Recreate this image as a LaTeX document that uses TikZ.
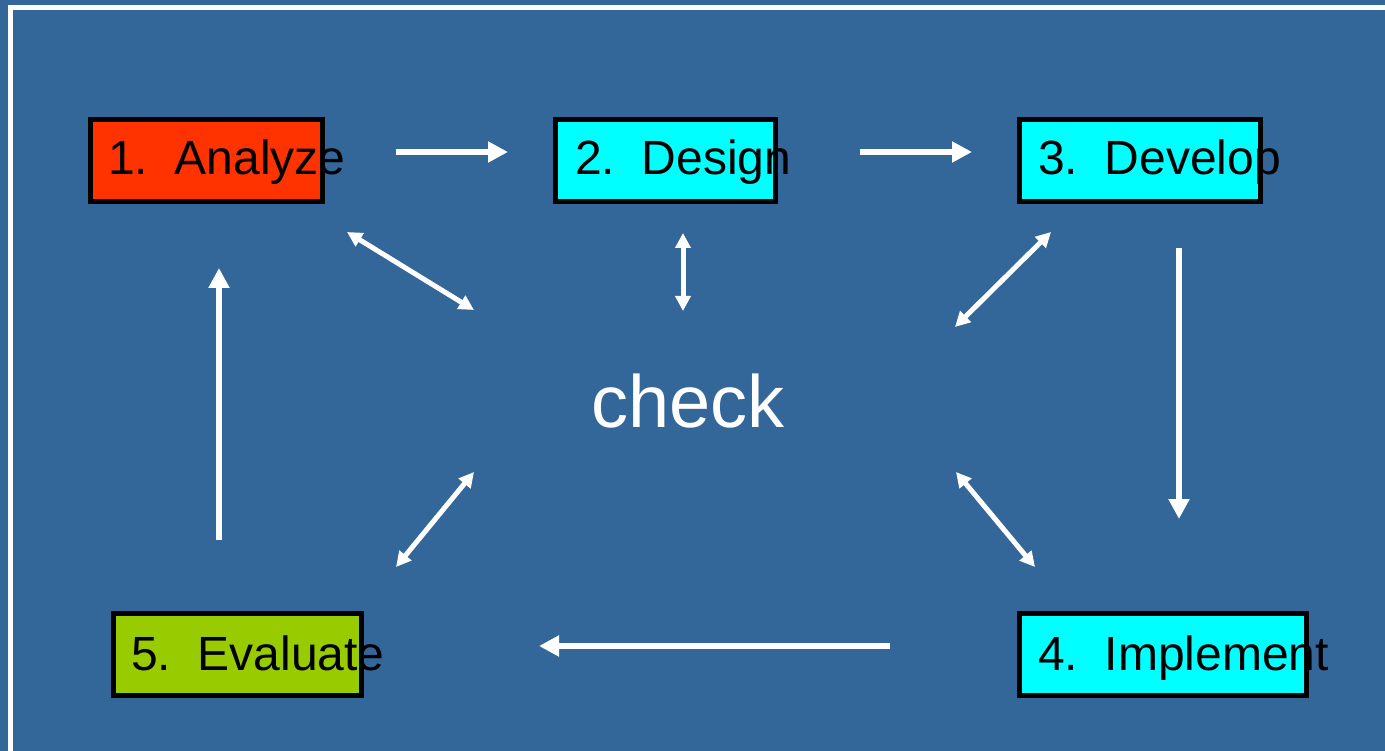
\documentclass[tikz,border=0pt]{standalone}
\usepackage{fontspec}
\setmainfont{Liberation Sans}
\usetikzlibrary{arrows.meta}

\definecolor{slide}{HTML}{336699}
\definecolor{stepred}{HTML}{FF3300}
\definecolor{stepcyan}{HTML}{00FFFF}
\definecolor{stepgreen}{HTML}{99CC00}

\tikzset{
  stepbox/.style={draw=black, line width=4.5pt, inner sep=0pt},
  steplabel/.style={anchor=base west, inner sep=0pt, text=black,
    font=\fontsize{48}{56}\selectfont},
  flow/.style={draw=white, line width=6pt,
    -{Triangle[length=20pt,width=20pt]}},
  twoway/.style={draw=white, line width=5pt,
    {Triangle[length=15pt,width=15pt]}-{Triangle[length=15pt,width=15pt]}},
}

\begin{document}
\begin{tikzpicture}[x=1pt,y=-1pt]
  \useasboundingbox (0,0) rectangle (1385,751);
  \clip (0,0) rectangle (1385,751);
  \fill[slide] (0,0) rectangle (1385,751);
  % slide frame (runs off the right and bottom edges)
  \draw[white, line width=5pt] (10.5,800) -- (10.5,7.5) -- (1420,7.5);

  % step boxes
  \path[stepbox, fill=stepred]   (90.5,119.5)  rectangle (322.5,201.5);
  \path[stepbox, fill=stepcyan]  (555.5,119.5) rectangle (775.5,201.5);
  \path[stepbox, fill=stepcyan]  (1019.5,119.5) rectangle (1260.5,201.5);
  \path[stepbox, fill=stepcyan]  (1019.5,613.5) rectangle (1306.5,695.5);
  \path[stepbox, fill=stepgreen] (113.5,613.5) rectangle (361.5,695.5);

  % step labels
  \node[steplabel] (s1) at (108,175) {1.\ \ Analyze};
  \node[steplabel] (s2) at (575,175) {2.\ \ Design};
  \node[steplabel] (s3) at (1038,175) {3.\ \ Develop};
  \node[steplabel] (s4) at (1038,670) {4.\ \ Implement};
  \node[steplabel] (s5) at (131,670) {5.\ \ Evaluate};

  % centre label
  \node[anchor=base, inner sep=0pt, text=white,
        font=\fontsize{74}{86}\selectfont] (chk) at (688,428) {check};

  % arrow end points
  \coordinate (a12s) at (396,152);  \coordinate (a12e) at (508,152);
  \coordinate (a23s) at (860,152);  \coordinate (a23e) at (972,152);
  \coordinate (a34s) at (1179,248); \coordinate (a34e) at (1179,519);
  \coordinate (a45s) at (890,646);  \coordinate (a45e) at (539,646);
  \coordinate (a51s) at (219,540);  \coordinate (a51e) at (219,268);

  \coordinate (c1a) at (347,232);  \coordinate (c1b) at (474,310);
  \coordinate (c2a) at (683,233);  \coordinate (c2b) at (683,311);
  \coordinate (c3a) at (1051,232); \coordinate (c3b) at (955,327);
  \coordinate (c4a) at (474,472);  \coordinate (c4b) at (396,567);
  \coordinate (c5a) at (956,472);  \coordinate (c5b) at (1035,567);

  % cycle arrows
  \draw[flow] (a12s) -- (a12e);
  \draw[flow] (a23s) -- (a23e);
  \draw[flow] (a34s) -- (a34e);
  \draw[flow] (a45s) -- (a45e);
  \draw[flow] (a51s) -- (a51e);

  % check arrows
  \draw[twoway] (c1a) -- (c1b);
  \draw[twoway] (c2a) -- (c2b);
  \draw[twoway] (c3a) -- (c3b);
  \draw[twoway] (c4a) -- (c4b);
  \draw[twoway] (c5a) -- (c5b);
\end{tikzpicture}
\end{document}
